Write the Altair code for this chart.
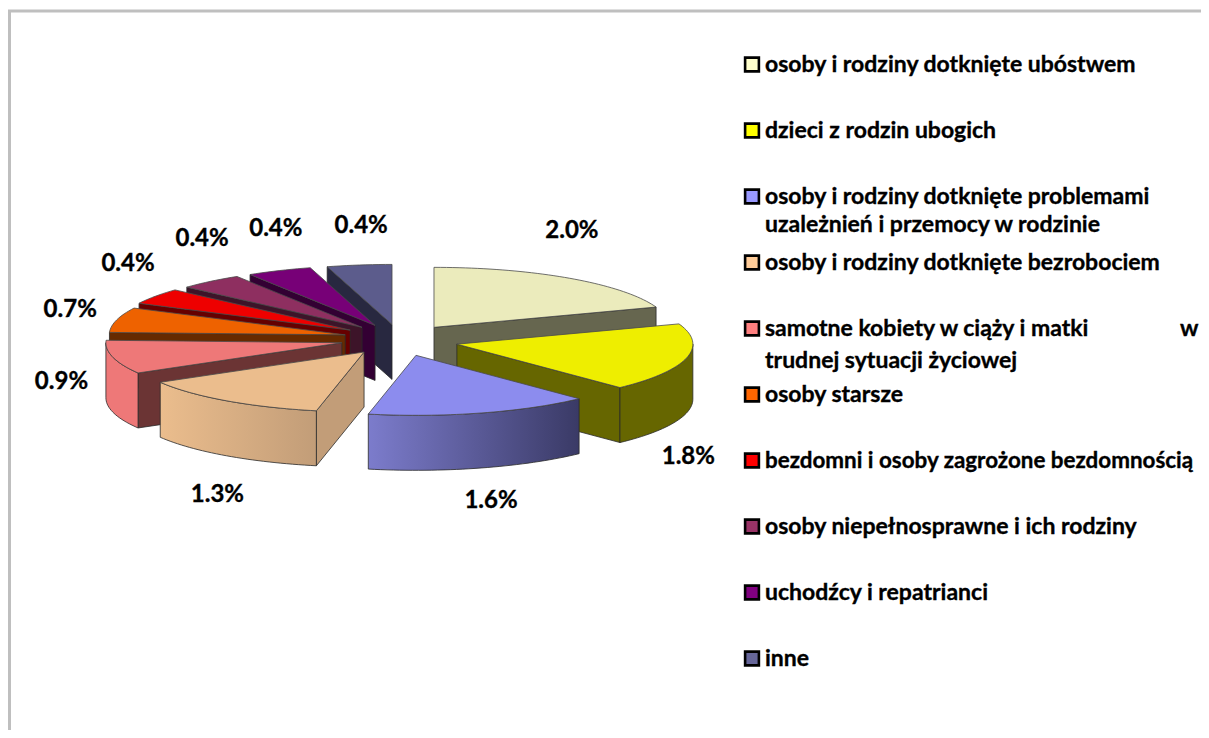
import math
import altair as alt

# ---- chart values -------------------------------------------------------
categories = [
    "osoby i rodziny dotknięte ubóstwem",
    "dzieci z rodzin ubogich",
    "osoby i rodziny dotknięte problemami",
    "osoby i rodziny dotknięte bezrobociem",
    "samotne kobiety w ciąży i matki",
    "osoby starsze",
    "bezdomni i osoby zagrożone bezdomnością",
    "osoby niepełnosprawne i ich rodziny",
    "uchodźcy i repatrianci",
    "inne",
]
second_lines = {2: "uzależnień i przemocy w rodzinie", 4: "trudnej sytuacji życiowej"}
values = [2.0, 1.8, 1.6, 1.3, 0.9, 0.7, 0.4, 0.4, 0.4, 0.4]
swatch_colors = ["#FFFFCC", "#FFFF00", "#9999FF", "#FFCC99", "#FF8080",
                 "#FF6600", "#FF0000", "#993366", "#800080", "#666699"]
top_colors = ["#EBEBBC", "#EEEE00", "#8C8CEE", "#EBBD8D", "#EE7878",
              "#EE6200", "#EE0000", "#8E2F60", "#770077", "#5C5C8C"]
radial_colors = ["#66664F", "#666600", "#3C3C66", "#C29D78", "#6B3434",
                 "#662A00", "#660000", "#3D1429", "#330033", "#282840"]
outer_left = ["#EBEBBC", "#666600", "#7C7CCC", "#EBBD8D", "#EE7878",
              "#EE6200", "#EE0000", "#8E2F60", "#770077", "#5C5C8C"]
outer_right = ["#EBEBBC", "#666600", "#3A3A66", "#C29D78", "#EE7878",
               "#EE6200", "#EE0000", "#8E2F60", "#770077", "#5C5C8C"]
label_offsets = [(-3, -49), (4, 96), (26, 86), (7, 96), (-48, 28),
                 (-51, -6), (-43, -29), (-23, -41), (-14.5, -42), (-1.5, -39.5)]
draw_order = [9, 0, 8, 7, 6, 5, 4, 1, 3, 2]

# ---- pie geometry (ellipse projected, exploded slices) ------------------
CX, CY, RX, RY, EX, EY, DEPTH = 400, 340, 236, 60, 59, 15.7, 55
# perspective correction of the slice edges, in degrees, and of the slice apexes, in px
edge_warp = [0, -2.5, -1.9, -4.7, -3.9, -4.0, -5.3, -4.3, -2.9, -1.4, 0]
apex_shift = [-1, 0, 3, 2, 0, 1, -4, -3, -3, -0.5]
FONT = "Lato"
total = sum(values)
edges = [0.0]
for v in values:
    edges.append(edges[-1] + v / total * 360)
warped = [e + w for e, w in zip(edges, edge_warp)]


def pt(apex, deg, dy=0.0):
    a = math.radians(deg)
    return [apex[0] + RX * math.sin(a), apex[1] - RY * math.cos(a) + dy]


def arc(apex, a0, a1, dy=0.0):
    n = max(2, int(abs(a1 - a0) / 1.5))
    return [pt(apex, a0 + (a1 - a0) * i / n, dy) for i in range(n + 1)]


PROJ = alt.Projection(type="identity", scale=1, translate=[-8, -8])


def shape(ring, fill, stroke="#2A2A2A", sw=0.8):
    ring = ring + [ring[0]]
    feat = {"type": "Feature", "properties": {},
            "geometry": {"type": "Polygon", "coordinates": [ring]}}
    return alt.Chart(alt.Data(values=[feat])).mark_geoshape(
        fill=fill, stroke=stroke, strokeWidth=sw, strokeJoin="round"
    ).project(**PROJ.to_dict())


def grad(c0, c1):
    return alt.Gradient(gradient="linear", x1=0, x2=1, y1=0, y2=0,
                        stops=[alt.GradientStop(offset=0, color=c0),
                               alt.GradientStop(offset=1, color=c1)])


layers = []
# frame, partly beyond the canvas as in the reference
layers.append(
    alt.Chart(alt.Data(values=[{"type": "Feature", "properties": {},
        "geometry": {"type": "Polygon", "coordinates": [[[9.5, 11], [1400, 11], [1400, 900], [9.5, 900], [9.5, 11]]]}}]))
    .mark_geoshape(filled=False, stroke="#BFBFBF", strokeWidth=3)
    .project(**PROJ.to_dict())
)

apexes, label_rows = [], []
for i in range(len(values)):
    mid = (edges[i] + edges[i + 1]) / 2
    m = math.radians(mid)
    base = (CX + EX * math.sin(m), CY - EY * math.cos(m))
    apexes.append((base[0] + apex_shift[i], base[1]))
    p = pt(base, mid)
    label_rows.append({"lon": p[0] + label_offsets[i][0],
                       "lat": p[1] + label_offsets[i][1],
                       "t": f"{values[i]:.1f}%"})

for i in draw_order:
    a0, a1, ap = warped[i], warped[i + 1], apexes[i]
    if math.sin(math.radians(a0)) < -1e-9:
        layers.append(shape([list(ap), pt(ap, a0), pt(ap, a0, DEPTH), [ap[0], ap[1] + DEPTH]], radial_colors[i]))
    if math.sin(math.radians(a1)) > 1e-9:
        layers.append(shape([list(ap), pt(ap, a1), pt(ap, a1, DEPTH), [ap[0], ap[1] + DEPTH]], radial_colors[i]))
    w0, w1 = max(a0, 90), min(a1, 270)
    if w1 > w0:
        ring = arc(ap, w0, w1) + arc(ap, w0, w1, DEPTH)[::-1]
        layers.append(shape(ring, grad(outer_left[i], outer_right[i])))
    layers.append(shape([list(ap)] + arc(ap, a0, a1), top_colors[i], stroke="#4A4A4A"))

# percentage labels
layers.append(
    alt.Chart(alt.Data(values=label_rows)).mark_text(
        font=FONT, fontWeight="bold", fontSize=24, color="#000000", stroke="#000000", strokeWidth=0.35,
        align="center", baseline="middle", dy=1
    ).encode(longitude="lon:Q", latitude="lat:Q", text="t:N").project(**PROJ.to_dict())
)

# legend
swatches, legend_lines = [], []
for i, c in enumerate(categories):
    y = 64.5 + 66 * i
    swatches.append({"lon": 752, "lat": y, "c": swatch_colors[i]})
    legend_lines.append({"lon": 765, "lat": y, "t": c, "fs": 22.4 if i == 6 else 23})
    if i in second_lines:
        legend_lines.append({"lon": 765, "lat": y + (28 if i == 2 else 32), "t": second_lines[i], "fs": 23})
legend_lines.append({"lon": 1180, "lat": 64.5 + 66 * 4, "t": "w", "fs": 23})

layers.append(
    alt.Chart(alt.Data(values=swatches)).mark_square(size=190, opacity=1, stroke="#000000", strokeWidth=2.6, filled=True)
    .encode(longitude="lon:Q", latitude="lat:Q", fill=alt.Fill("c:N", scale=None))
    .project(**PROJ.to_dict())
)
layers.append(
    alt.Chart(alt.Data(values=legend_lines)).mark_text(
        font=FONT, fontWeight="bold", color="#000000", stroke="#000000", strokeWidth=0.35,
        align="left", baseline="middle"
    ).encode(longitude="lon:Q", latitude="lat:Q", text="t:N",
             size=alt.Size("fs:Q", scale=None, legend=None)).project(**PROJ.to_dict())
)

chart = alt.layer(*layers).properties(
    width=1193, height=722, padding=0, autosize=alt.AutoSizeParams(type="none")
).configure_view(stroke=None).configure(background="#FFFFFF")

chart.save("out.html", embed_options={"renderer": "svg", "actions": False})
